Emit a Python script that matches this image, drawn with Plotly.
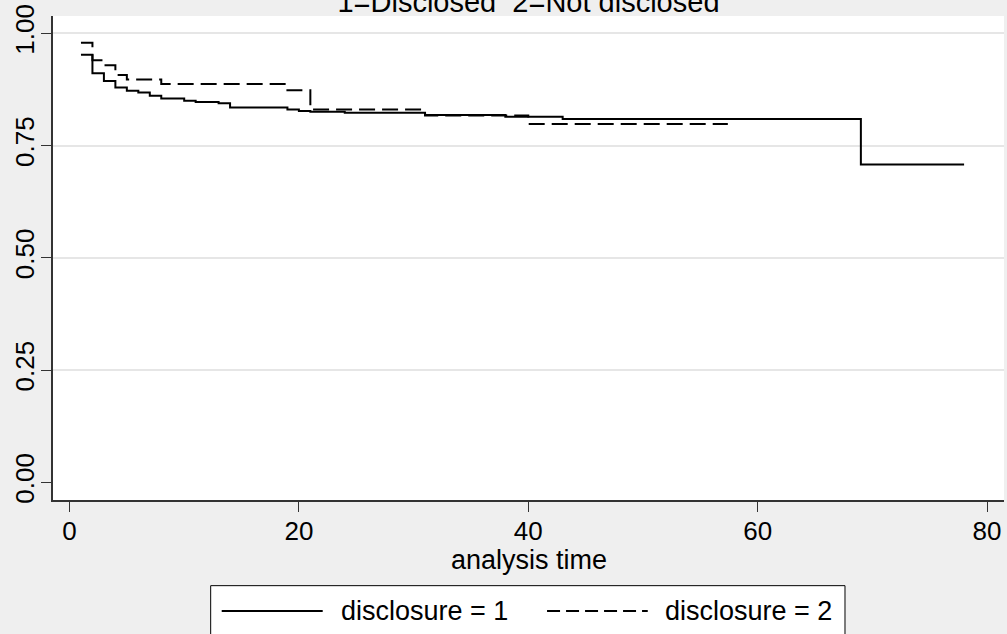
import plotly.graph_objects as go

# ---- data (Kaplan-Meier step curves) ----
t_disc1 = [1, 2, 3, 4, 5, 6, 7, 8, 10, 11, 13, 14, 19, 20, 21, 24, 31, 38, 43, 69, 78]
s_disc1 = [0.952, 0.911, 0.894, 0.879, 0.872, 0.868, 0.861, 0.855, 0.850, 0.847, 0.844,
           0.835, 0.830, 0.827, 0.825, 0.823, 0.818, 0.814, 0.809, 0.708, 0.708]

t_disc2 = [1, 2, 3, 4, 5, 8, 19, 21, 31, 40, 57.4]
s_disc2 = [0.979, 0.940, 0.929, 0.907, 0.897, 0.887, 0.873, 0.830, 0.817, 0.798, 0.798]

x_ticks = [0, 20, 40, 60, 80]
y_ticks = [0, 0.25, 0.5, 0.75, 1.0]
series_names = ["disclosure = 1", "disclosure = 2"]
title_text = "1=Disclosed  2=Not disclosed"
x_title = "analysis time"

FONT = "Liberation Sans, Arial, sans-serif"
AXC = "#333333"

fig = go.Figure()
fig.add_trace(go.Scatter(x=t_disc1, y=s_disc1, mode="lines", line_shape="hv",
                         line=dict(color="black", width=2), name=series_names[0],
                         showlegend=False))
fig.add_trace(go.Scatter(x=t_disc2, y=s_disc2, mode="lines", line_shape="hv",
                         line=dict(color="black", width=2, dash="16px,7px"),
                         name=series_names[1], showlegend=False))

# manual legend (Stata-style, long sample lines), in paper coordinates
fig.add_shape(type="rect", xref="paper", yref="paper", x0=0.1658, x1=0.8328,
              y0=-0.177, y1=-0.30, line=dict(color="black", width=1), fillcolor="white")
fig.add_shape(type="line", xref="paper", yref="paper", x0=0.1774, x1=0.2836,
              y0=-0.2293, y1=-0.2293, line=dict(color="black", width=2))
fig.add_shape(type="line", xref="paper", yref="paper", x0=0.5195, x1=0.6254,
              y0=-0.2293, y1=-0.2293, line=dict(color="black", width=2, dash="13px,6px"))
fig.add_annotation(xref="paper", yref="paper", x=0.3007, y=-0.2293, text=series_names[0],
                   showarrow=False, xanchor="left", yanchor="middle",
                   font=dict(family=FONT, size=27, color="black"))
fig.add_annotation(xref="paper", yref="paper", x=0.6414, y=-0.2293, text=series_names[1],
                   showarrow=False, xanchor="left", yanchor="middle",
                   font=dict(family=FONT, size=27, color="black"))
# x-axis title placed as in the reference
fig.add_annotation(xref="paper", yref="paper", x=0.5, y=-0.124, text=x_title,
                   showarrow=False, xanchor="center", yanchor="middle",
                   font=dict(family=FONT, size=27, color="black"))

fig.update_layout(
    width=1007, height=634,
    margin=dict(l=53, r=3, t=16, b=134),
    paper_bgcolor="#efefef", plot_bgcolor="white",
    font=dict(family=FONT, color="black"),
    title=dict(text=title_text, x=0.5, xref="paper", xanchor="center",
               y=1 - 12 / 634, yref="container", yanchor="bottom",
               font=dict(family=FONT, size=29, color="black")),
    showlegend=False,
)
fig.update_xaxes(range=[-1.439, 81.48], tickvals=x_ticks, ticks="outside", ticklen=10,
                 tickwidth=1.3, tickcolor=AXC, showline=True, linecolor=AXC, linewidth=1.5,
                 showgrid=False, zeroline=False, tickfont=dict(size=26),
                 ticklabelstandoff=-3, automargin=False, ticklabeloverflow="allow")
fig.update_yaxes(range=[-0.0394, 1.0385], tickvals=y_ticks, tickformat=".2f",
                 tickangle=-90, ticks="outside", ticklen=10, tickwidth=1.3, tickcolor=AXC,
                 showline=True, linecolor=AXC, linewidth=1.5,
                 showgrid=True, gridcolor="#e6e6e6", gridwidth=2,
                 zeroline=True, zerolinecolor="white", zerolinewidth=3,
                 tickfont=dict(size=26), ticklabelstandoff=-3,
                 automargin=False, ticklabeloverflow="allow")

fig.write_html("out.html")
